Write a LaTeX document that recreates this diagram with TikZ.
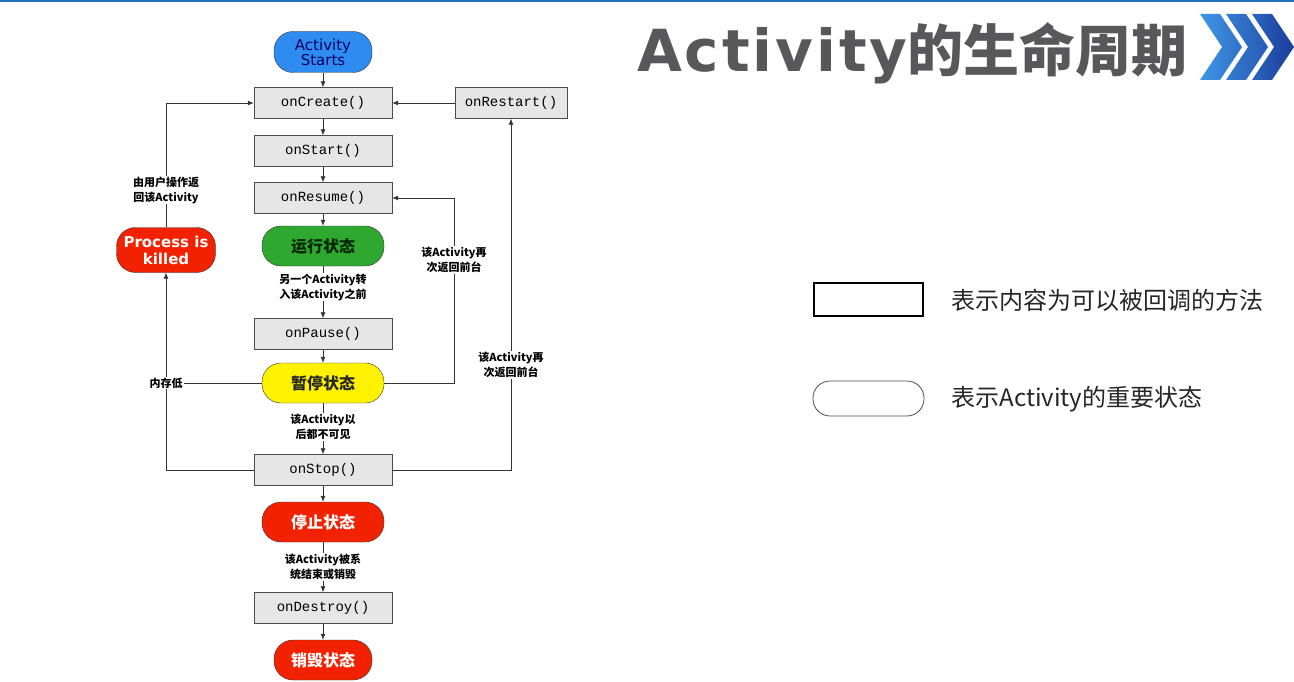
\documentclass[tikz,border=0pt]{standalone}
\usepackage{fontspec}
\usetikzlibrary{arrows.meta}
\setmainfont{DejaVu Sans}
\newfontfamily\cjk{Noto Sans CJK SC}
\newfontfamily\mono{Liberation Mono}
\newfontfamily\latin{DejaVu Sans}
\newfontfamily\titlelatin{DejaVu Sans}[LetterSpace=5]
\definecolor{startblue}{HTML}{2E8CF0}
\definecolor{runninggreen}{HTML}{2FA82F}
\definecolor{pauseyellow}{HTML}{FFF200}
\definecolor{stopred}{HTML}{F22200}
\definecolor{titlegray}{HTML}{58585A}
\definecolor{methodgray}{HTML}{E6E6E6}
\definecolor{chevlight}{HTML}{3F95E6}
\definecolor{chevdark}{HTML}{1B3C9C}

\tikzset{
  method/.style={draw=black!70, fill=methodgray, minimum width=138, minimum height=31,
    font=\mono\fontsize{14}{14}\selectfont, inner sep=0pt},
  state/.style={draw=black!80, rounded corners=19, minimum width=122, minimum height=40,
    font=\cjk\bfseries\fontsize{16}{16}\selectfont, inner sep=0pt},
  note/.style={fill=white, align=center, inner sep=1pt,
    font=\cjk\bfseries\fontsize{11}{15}\selectfont},
  link/.style={-{Latex[length=6pt,width=5pt]}, black!80, line width=0.7pt},
  plain/.style={black!80, line width=0.7pt}
}
\newcommand{\chevron}[3]{%
  \shade[left color=#2, right color=#3]
    (#1,14) -- ++(20,0) -- ++(22,33) -- ++(-22,33) -- ++(-20,0) -- ++(22,-33) -- cycle;}

\begin{document}
\begin{tikzpicture}[x=1pt, y=-1pt]
  \useasboundingbox (0,0) rectangle (1294,682);
  \fill[startblue!80!black] (0,0) rectangle (1294,2.5);

  % the lifecycle chain
  \node[state, fill=startblue, minimum width=98, minimum height=41, text=blue!40!black,
    font=\latin\fontsize{15}{15}\selectfont, align=center] (start) at (323,52) {Activity\\Starts};
  \node[method] (create) at (323,103) {onCreate()};
  \node[method, minimum width=112] (restart) at (511,103) {onRestart()};
  \node[method] (onstart) at (323,151) {onStart()};
  \node[method] (resume) at (323,198) {onResume()};
  \node[state, fill=runninggreen, text=green!15!black] (running) at (323,246) {运行状态};
  \node[method] (pause) at (323,334) {onPause()};
  \node[state, fill=pauseyellow, text=black!85] (paused) at (323,383) {暂停状态};
  \node[method] (stop) at (323,470) {onStop()};
  \node[state, fill=stopred, text=white] (stopped) at (323,522) {停止状态};
  \node[method] (destroy) at (323,608) {onDestroy()};
  \node[state, fill=stopred, text=white, minimum width=98] (destroyed) at (323,660) {销毁状态};
  \node[state, fill=stopred, text=white, minimum width=99, minimum height=45,
    font=\latin\bfseries\fontsize{15}{17}\selectfont, align=center] (killed) at (166,250) {Process is\\killed};

  \draw[link] (start) -- (create);
  \draw[link] (create) -- (onstart);
  \draw[link] (onstart) -- (resume);
  \draw[link] (resume) -- (running);
  \draw[link] (running) -- (pause);
  \draw[link] (pause) -- (paused);
  \draw[link] (paused) -- (stop);
  \draw[link] (stop) -- (stopped);
  \draw[link] (stopped) -- (destroy);
  \draw[link] (destroy) -- (destroyed);
  \draw[link] (restart) -- (create);

  % loops back
  \draw[link] (killed.north) |- (create.west);
  \draw[link] (stop.west) -| (killed.south);
  \draw[plain] (paused.west) -- (paused.west -| killed.south);
  \draw[link] (paused.east) -- ++(70,0) |- (resume.east);
  \draw[link] (stop.east) -| (restart.south);

  \node[note] (usernote) at (166,190) {由用户操作返\\回该Activity};
  \node[note] (memnote) at (166,383) {内存低};
  \node[note] (othernote) at (323,287) {另一个Activity转\\入该Activity之前};
  \node[note] (hiddennote) at (323,427) {该Activity以\\后都不可见};
  \node[note] (endnote) at (323,567) {该Activity被系\\统结束或销毁};
  \node[note] (backnote) at (454,260) {该Activity再\\次返回前台};
  \node[note] (againnote) at (511,365) {该Activity再\\次返回前台};

  % title
  \node[anchor=west, inner sep=0pt, text=titlegray] (title) at (637,53)
    {\titlelatin\bfseries\fontsize{58}{58}\selectfont Activity\cjk\bfseries\fontsize{56}{56}\selectfont 的生命周期};
  \chevron{1200}{chevlight}{chevlight!60!chevdark}
  \chevron{1226}{chevlight!70!chevdark}{chevlight!35!chevdark}
  \chevron{1252}{chevlight!45!chevdark}{chevdark}

  % legend
  \node[draw=black, line width=2pt, minimum width=109, minimum height=33, inner sep=0pt] (keymethod) at (868.5,299.5) {};
  \node[anchor=west, font=\cjk\fontsize{24}{24}\selectfont, text=black!85] (keymethodtext) at (948,300) {表示内容为可以被回调的方法};
  \node[draw=black!70, line width=0.8pt, rounded corners=17, minimum width=111, minimum height=35, inner sep=0pt] (keystate) at (868.5,398.5) {};
  \node[anchor=west, font=\cjk\fontsize{24}{24}\selectfont, text=black!85] (keystatetext) at (948,399) {表示Activity的重要状态};
\end{tikzpicture}
\end{document}
